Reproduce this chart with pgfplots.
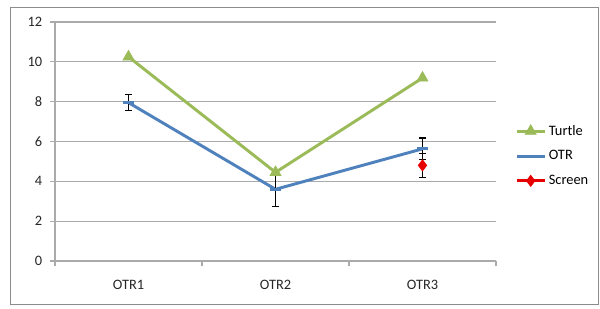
\documentclass[border=0pt]{standalone}
\usepackage{pgfplots}
\pgfplotsset{compat=1.18}
\usepackage{fontspec}
\setmainfont{Carlito}
\definecolor{turtle}{RGB}{155,187,89}
\definecolor{otr}{RGB}{79,129,189}
\definecolor{screen}{RGB}{230,0,0}
\definecolor{gridc}{RGB}{170,170,170}
\definecolor{framec}{RGB}{140,140,140}
\begin{document}
\begin{tikzpicture}
\path[use as bounding box] (-41.25pt,-36pt) rectangle (408.75pt,195.75pt);
\draw[framec, line width=0.6pt] (-33.75pt,-32.25pt) rectangle (407.25pt,190.5pt);
\begin{axis}[
  at={(0pt,0pt)}, anchor=south west,
  scale only axis, width=330.75pt, height=179.25pt,
  xmin=-0.5, xmax=2.5, ymin=0, ymax=12,
  ytick={0,2,...,12},
  xtick={0,1,2}, xticklabels={OTR1,OTR2,OTR3},
  minor xtick={-0.5,0.5,1.5,2.5},
  major x tick style={draw=none},
  minor x tick style={gridc, line width=0.8pt},
  minor tick length=4pt,
  major tick length=4pt,
  tick align=outside,
  y tick style={gridc, line width=0.8pt},
  axis x line*=bottom, axis y line*=left,
  axis line style={gridc, line width=0.8pt},
  ymajorgrids, grid style={gridc, line width=0.8pt},
  tick label style={font=\fontsize{10.8}{12}\selectfont, black!85},
  /pgf/number format/assume math mode=true,
  xticklabel style={yshift=-7pt},
  yticklabel style={xshift=-2pt},
  legend style={at={(1.043,0.44)}, anchor=west, draw=none, fill=none,
    font=\fontsize{10.8}{12}\selectfont, row sep=6pt, inner sep=0pt},
  legend cell align=left,
  legend image code/.code={
    \draw[#1, mark repeat=2, mark phase=2] plot coordinates {(0pt,0pt) (10.5pt,0pt) (21pt,0pt)};
  },
  clip=false,
]
\addplot[turtle, line width=2.2pt, mark=triangle*, mark size=4.8pt, mark options={line width=0.5pt}]
  coordinates {(0,10.25) (1,4.45) (2,9.19)};
\addlegendentry{Turtle}
\addplot[otr, line width=2.2pt, mark=-, mark size=4pt, mark options={line width=2.2pt},
  error bars/.cd, y dir=both, y explicit,
  error bar style={black, line width=0.9pt},
  error mark options={rotate=90, black, mark size=2.6pt, line width=0.9pt}]
  coordinates {(0,7.95) +- (0,0.4) (1,3.6) +- (0,0.85) (2,5.63) +- (0,0.55)};
\addlegendentry{OTR}
\addplot[screen, line width=2.2pt, mark=diamond*, mark size=4.2pt, mark options={line width=0.5pt},
  error bars/.cd, y dir=both, y explicit,
  error bar style={black, line width=0.9pt},
  error mark options={rotate=90, black, mark size=2.6pt, line width=0.9pt}]
  coordinates {(2,4.8) +- (0,0.6)};
\addlegendentry{Screen}
\end{axis}
\end{tikzpicture}
\end{document}
